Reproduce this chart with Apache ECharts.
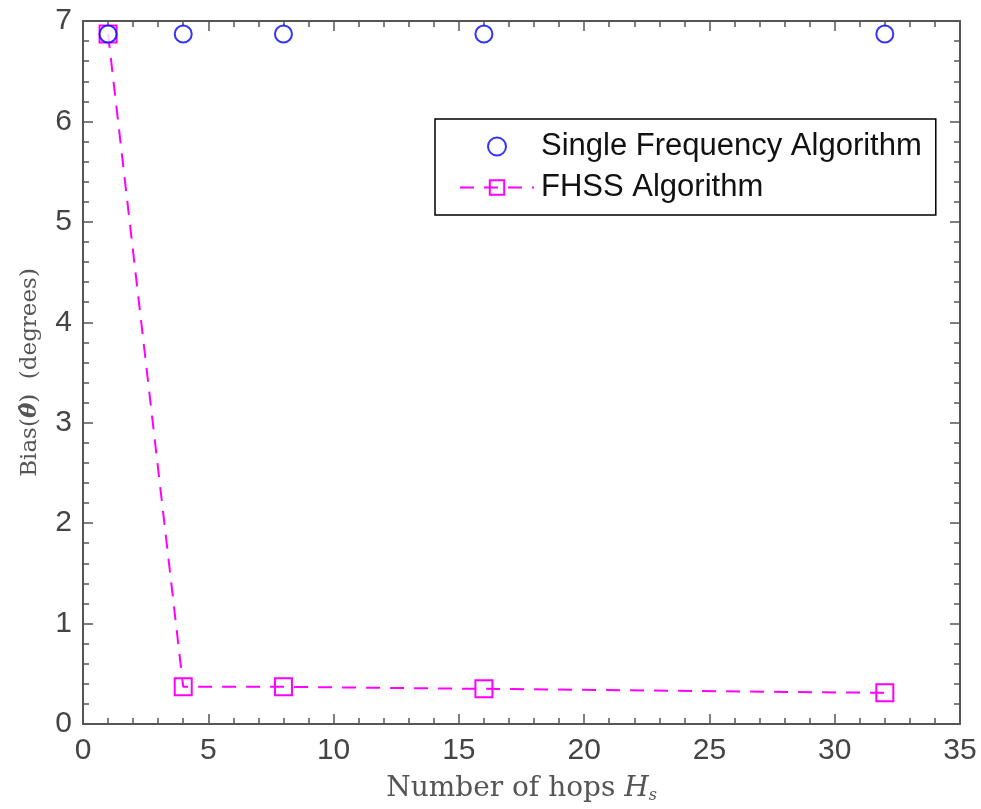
<!DOCTYPE html>
<html>
<head>
<meta charset="utf-8">
<script src="https://cdn.jsdelivr.net/npm/echarts@6/dist/echarts.min.js"></script>
<style>
  html, body { margin: 0; padding: 0; background: #fff; }
  #chart { width: 981px; height: 809px; }
</style>
</head>
<body>
<div id="chart"></div>
<script>
// Number of hops on the x axis
const hops = [1, 4, 8, 16, 32];
// Bias of the angle estimate (degrees)
const singleFreqBias = [6.87, 6.87, 6.87, 6.87, 6.87];
const fhssBias = [6.87, 0.37, 0.37, 0.35, 0.31];

const seriesNames = ['Single Frequency Algorithm', 'FHSS Algorithm'];
const xTitle = 'Number of hops {it|H}{sub|s}';
const yTitle = 'Bias({th|θ̂})  (degrees)';

const axisGrey = '#555';
const labelFont = { fontFamily: 'Liberation Sans, Arial, sans-serif', fontSize: 30, color: '#444' };
const xTitleFont = { fontFamily: 'DejaVu Serif, serif', fontSize: 28, color: '#555' };
const yTitleFont = { fontFamily: 'DejaVu Serif, serif', fontSize: 23, color: '#555' };

function pairs(xs, ys) { return xs.map((x, i) => [x, ys[i]]); }

// Box frame: every side carries inward major and minor ticks
function tickCommon() {
  return {
    axisLine: { show: true, onZero: false, lineStyle: { color: axisGrey, width: 2 } },
    axisTick: { show: true, inside: true, length: 10, lineStyle: { color: axisGrey, width: 1.5 } },
    minorTick: { show: true, splitNumber: 5, length: 6, lineStyle: { color: axisGrey, width: 1.5 } },
    splitLine: { show: false }
  };
}

const chart = echarts.init(document.getElementById('chart'), null, { renderer: 'canvas' });
chart.setOption({
  animation: false,
  backgroundColor: '#fff',
  grid: { left: 83, right: 21, top: 21, bottom: 84, containLabel: false },
  legend: {
    orient: 'vertical',
    left: 435,
    top: 119,
    padding: [12, 14, 12, 24],
    itemGap: 10,
    itemWidth: 74,
    itemHeight: 18,
    backgroundColor: '#fff',
    borderColor: '#000',
    borderWidth: 1.5,
    borderRadius: 0,
    textStyle: { fontFamily: 'Liberation Sans, Arial, sans-serif', fontSize: 31, color: '#111', padding: [0, 0, 0, 2] },
    data: seriesNames
  },
  xAxis: [
    Object.assign(tickCommon(), {
      type: 'value', min: 0, max: 35, interval: 5,
      name: xTitle, nameLocation: 'middle', nameGap: 50,
      nameTextStyle: Object.assign({}, xTitleFont, {
        rich: {
          it: Object.assign({}, xTitleFont, { fontStyle: 'italic' }),
          sub: Object.assign({}, xTitleFont, { fontStyle: 'italic', fontSize: 16, verticalAlign: 'bottom', padding: [14, 0, 0, 0] })
        }
      }),
      axisLabel: Object.assign({ margin: 12 }, labelFont)
    }),
    Object.assign(tickCommon(), {
      type: 'value', min: 0, max: 35, interval: 5, position: 'top',
      axisLabel: { show: false }
    })
  ],
  yAxis: [
    Object.assign(tickCommon(), {
      type: 'value', min: 0, max: 7, interval: 1,
      name: yTitle, nameLocation: 'middle', nameGap: 41,
      nameTextStyle: Object.assign({}, yTitleFont, {
        rich: { th: Object.assign({}, yTitleFont, { fontStyle: 'italic', fontWeight: 'bold' }) }
      }),
      axisLabel: Object.assign({ margin: 11 }, labelFont)
    }),
    Object.assign(tickCommon(), {
      type: 'value', min: 0, max: 7, interval: 1, position: 'right',
      axisLabel: { show: false }
    })
  ],
  series: [
    {
      name: seriesNames[0],
      type: 'scatter',
      data: pairs(hops, singleFreqBias),
      symbol: 'emptyCircle',
      symbolSize: 17,
      itemStyle: { color: '#0000ff', borderColor: '#0000ff', borderWidth: 2 },
      z: 3
    },
    {
      name: seriesNames[1],
      type: 'line',
      data: pairs(hops, fhssBias),
      symbol: 'rect',
      symbolSize: 17,
      showSymbol: true,
      itemStyle: { color: 'rgba(0,0,0,0)', borderColor: '#ff00ff', borderWidth: 2 },
      lineStyle: { color: '#ff00ff', width: 2, type: [14, 10] },
      z: 2
    }
  ]
});
</script>
</body>
</html>
